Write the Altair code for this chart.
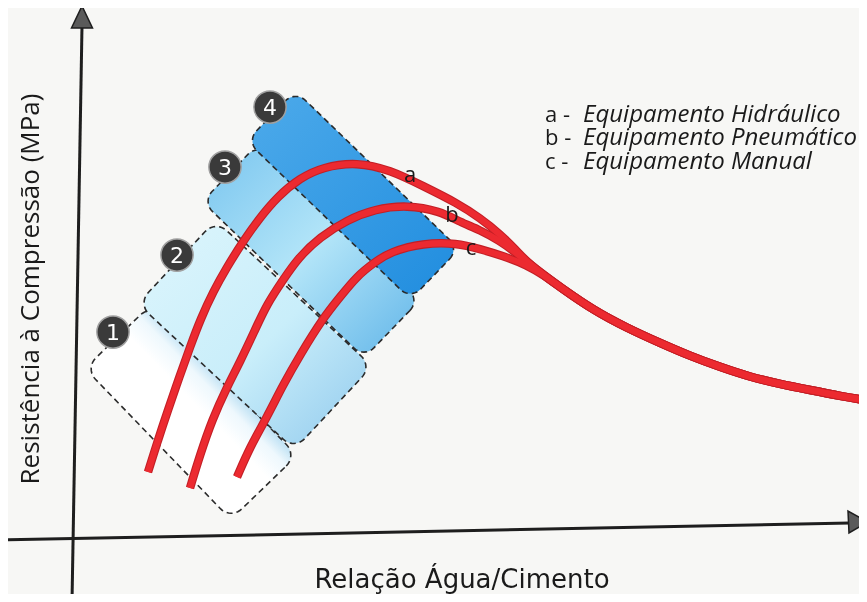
import math
import altair as alt
import pandas as pd

# ---------------- data (image pixel coordinates) ----------------
curve_a_x = [148, 158, 168, 179, 190, 201, 213, 227, 242, 258, 278, 300, 323, 357, 390, 423, 457, 480, 500, 515, 527]
curve_a_y = [472, 440, 410, 378, 347, 318, 292, 267, 243, 220, 196, 178, 167, 162, 170, 186, 203, 218, 234, 249, 262]
curve_b_x = [190, 200, 212, 227, 240, 255, 267, 283, 298, 320, 347, 375, 407, 440, 460, 480, 500, 515, 527]
curve_b_y = [488, 455, 420, 387, 362, 330, 304, 280, 258, 237, 220, 209, 205, 211, 222, 230, 241, 252, 262]
curve_c_x = [237, 250, 267, 283, 300, 323, 340, 357, 375, 390, 423, 457, 480, 503, 527]
curve_c_y = [477, 447, 417, 385, 355, 318, 297, 276, 262, 252, 243, 243, 249, 256, 265]
tail_x = [545, 560, 593, 627, 660, 690, 720, 750, 780, 810, 840, 870]
tail_y = [276, 287, 310, 328, 343, 356, 367, 377, 384, 390, 396, 401]

curve_names = ["a", "b", "c"]
curve_label_x = [410, 452, 471]
curve_label_y = [182, 222, 255]

zone_ids = ["1", "2", "3", "4"]
zone_cx = [191, 255, 311, 353]
zone_cy = [412, 335, 251, 195]
zone_len = [210, 214, 225, 228]
zone_wid = [92, 114, 80, 70]
zone_angle = [46, 43, 44, 44]
zone_radius = [15, 15, 14, 14]
zone_badge_x = [113, 177, 225, 270]
zone_badge_y = [332, 255, 167, 107]
zone_gradients = [
    [(0.0, "#ffffff"), (0.6, "#ffffff"), (0.85, "#eef8fd"), (1.0, "#c4e4f5")],
    [(0.0, "#d9f4fc"), (0.55, "#c9eefa"), (1.0, "#9ed2f0")],
    [(0.0, "#86ccf1"), (0.5, "#b3e5f8"), (1.0, "#74c0ec")],
    [(0.0, "#48a7e9"), (1.0, "#2590e0")],
]

legend_letters = ["a -", "b -", "c -"]
legend_texts = ["Equipamento Hidráulico", "Equipamento Pneumático", "Equipamento Manual"]
legend_x_letter = 545
legend_x_text = 583
legend_y = [122, 145, 169]

x_title = "Relação Água/Cimento"
y_title = "Resistência à Compressão (MPa)"

y_axis_x = [72, 82]
y_axis_y = [602, 26]
x_axis_x = [0, 850]
x_axis_y = [540, 523]
y_arrow_x = [82, 71.5, 92.5]
y_arrow_y = [6, 28, 28]
x_arrow_x = [868, 848, 849]
x_arrow_y = [522, 511, 533]

# ---------------- helpers ----------------
def rounded_rect(cx, cy, L, W, ang, r, n=10):
    a = math.radians(ang)
    ux, uy = math.cos(a), math.sin(a)
    vx, vy = math.sin(a), -math.cos(a)
    pts = []
    centers = [(L / 2 - r, W / 2 - r, 0), (-(L / 2 - r), W / 2 - r, 90),
               (-(L / 2 - r), -(W / 2 - r), 180), (L / 2 - r, -(W / 2 - r), 270)]
    for s0, t0, start in centers:
        for k in range(n + 1):
            th = math.radians(start + 90 * k / n)
            s = s0 + r * math.cos(th)
            t = t0 + r * math.sin(th)
            pts.append([cx + s * ux + t * vx, cy + s * uy + t * vy])
    pts.append(pts[0])
    return pts


def feature(geom_type, coords):
    return {"type": "Feature", "properties": {}, "geometry": {"type": geom_type, "coordinates": coords}}


layers = []

# zones (rounded, dashed, gradient-filled)
for i in range(4):
    poly = rounded_rect(zone_cx[i], zone_cy[i], zone_len[i], zone_wid[i], zone_angle[i], zone_radius[i])
    grad = {
        "gradient": "linear",
        "x1": 0.1, "y1": 0.1, "x2": 0.9, "y2": 0.9,
        "stops": [{"offset": o, "color": c} for o, c in zone_gradients[i]],
    }
    if i == 0:
        k = (zone_wid[i] / 2) / (zone_len[i] + zone_wid[i])
        grad = {
            "gradient": "linear",
            "x1": 0.5 - k, "y1": 0.5 + k, "x2": 0.5 + k, "y2": 0.5 - k,
            "stops": [{"offset": o, "color": c} for o, c in zone_gradients[i]],
        }
    layers.append(
        alt.Chart(alt.InlineData(values=[feature("Polygon", [poly])]))
        .mark_geoshape(fill=grad, stroke="#2b2b2b", strokeWidth=1.6, strokeDash=[6, 4], blend="multiply")
    )

# axes
axis_feats = [
    feature("LineString", [[x, y] for x, y in zip(y_axis_x, y_axis_y)]),
    feature("LineString", [[x, y] for x, y in zip(x_axis_x, x_axis_y)]),
]
layers.append(
    alt.Chart(alt.InlineData(values=axis_feats))
    .mark_geoshape(filled=False, stroke="#1e1e1e", strokeWidth=3)
)
arrow_feats = [
    feature("Polygon", [[[x, y] for x, y in zip(y_arrow_x + y_arrow_x[:1], y_arrow_y + y_arrow_y[:1])]]),
    feature("Polygon", [[[x, y] for x, y in zip(x_arrow_x + x_arrow_x[:1], x_arrow_y + x_arrow_y[:1])]]),
]
layers.append(
    alt.Chart(alt.InlineData(values=arrow_feats))
    .mark_geoshape(fill="#5a5a5a", stroke="#1e1e1e", strokeWidth=1.5)
)

# curves
rows = []
for name, xs, ys in zip(curve_names, [curve_a_x, curve_b_x, curve_c_x], [curve_a_y, curve_b_y, curve_c_y]):
    for i, (x, y) in enumerate(zip(xs + tail_x, ys + tail_y)):
        rows.append({"curve": name, "i": i, "x": x, "y": y})
curves_df = pd.DataFrame(rows)
enc = dict(longitude="x:Q", latitude="y:Q", detail="curve:N", order="i:Q")
layers.append(alt.Chart(curves_df).mark_line(interpolate="basis", strokeWidth=8.5, color="#c21f26", strokeCap="butt").encode(**enc))
layers.append(alt.Chart(curves_df).mark_line(interpolate="basis", strokeWidth=6.3, color="#ec2a30", strokeCap="butt").encode(**enc))

# curve labels
lab_df = pd.DataFrame({"t": curve_names, "x": curve_label_x, "y": curve_label_y})
layers.append(
    alt.Chart(lab_df).mark_text(font="Open Sans", fontSize=22, color="#1a1a1a", align="center", baseline="alphabetic")
    .encode(longitude="x:Q", latitude="y:Q", text="t:N")
)

# zone badges
badge_df = pd.DataFrame({"t": zone_ids, "x": zone_badge_x, "y": zone_badge_y})
layers.append(
    alt.Chart(badge_df).mark_circle(size=1040, color="#3a3a3a", opacity=1, stroke="#a0a0a0", strokeWidth=1.5)
    .encode(longitude="x:Q", latitude="y:Q")
)
layers.append(
    alt.Chart(badge_df).mark_text(font="DejaVu Sans", fontSize=22, color="#ffffff", align="center", baseline="middle", dy=1)
    .encode(longitude="x:Q", latitude="y:Q", text="t:N")
)

# legend
leg_df = pd.DataFrame({"l": legend_letters, "t": legend_texts, "y": legend_y,
                       "xl": [legend_x_letter] * 3, "xt": [legend_x_text] * 3})
layers.append(
    alt.Chart(leg_df).mark_text(font="Open Sans", fontSize=22, color="#1a1a1a", align="left", baseline="alphabetic")
    .encode(longitude="xl:Q", latitude="y:Q", text="l:N")
)
layers.append(
    alt.Chart(leg_df).mark_text(font="Open Sans", fontStyle="italic", fontSize=24, color="#1a1a1a", align="left", baseline="alphabetic")
    .encode(longitude="xt:Q", latitude="y:Q", text="t:N")
)

# axis titles
xt_df = pd.DataFrame({"t": [x_title], "x": [462], "y": [588]})
layers.append(
    alt.Chart(xt_df).mark_text(font="DejaVu Sans", fontSize=26, color="#1a1a1a", align="center", baseline="alphabetic")
    .encode(longitude="x:Q", latitude="y:Q", text="t:N")
)
yt_df = pd.DataFrame({"t": [y_title], "x": [39], "y": [289]})
layers.append(
    alt.Chart(yt_df).mark_text(font="Open Sans", fontSize=26, color="#1a1a1a", align="center", baseline="alphabetic", angle=270)
    .encode(longitude="x:Q", latitude="y:Q", text="t:N")
)

chart = (
    alt.layer(*layers)
    .project(type="identity", scale=1, translate=[-8, -8], reflectY=False)
    .properties(width=851, height=586, autosize=alt.AutoSizeParams(type="none"), padding=0, background="#f7f7f5")
    .configure_view(strokeWidth=0)
)

chart.save("out.html", embed_options={"renderer": "svg", "actions": False})
